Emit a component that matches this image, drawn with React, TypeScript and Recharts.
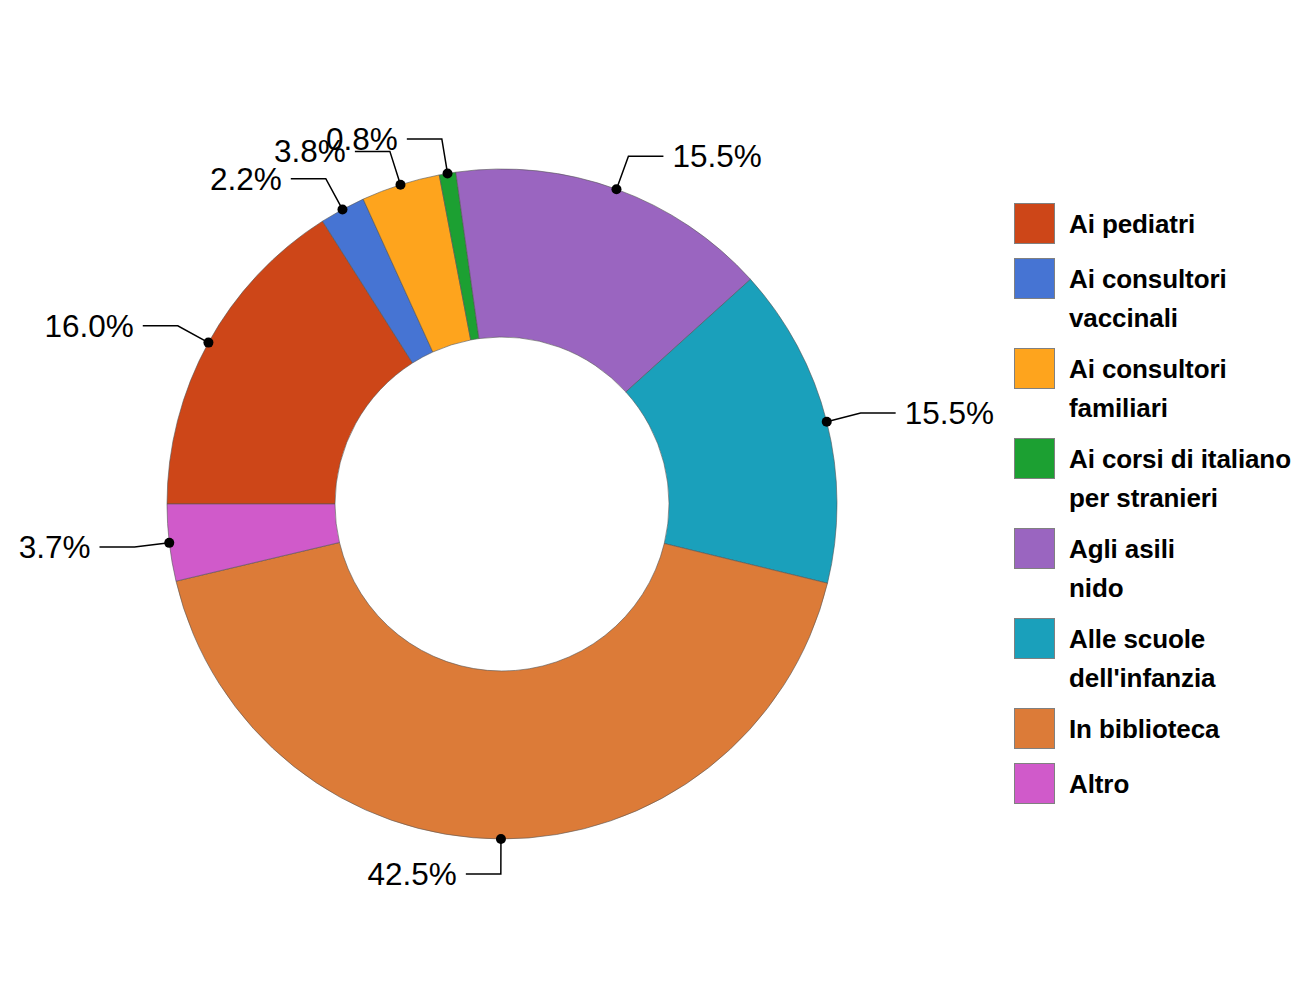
import React from 'react';
import { PieChart, Pie, Cell, Legend } from 'recharts';

const categories = [
  'Ai pediatri',
  'Ai consultori\nvaccinali',
  'Ai consultori\nfamiliari',
  'Ai corsi di italiano\nper stranieri',
  'Agli asili\nnido',
  'Alle scuole\ndell\'infanzia',
  'In biblioteca',
  'Altro',
];
const shares = [16.0, 2.2, 3.8, 0.8, 15.5, 15.5, 42.5, 3.7];
const colors = ['#CD4618', '#4674D3', '#FEA41D', '#1CA032', '#9A65C0', '#1AA0BB', '#DC7B38', '#D05ACA'];

const data = categories.map((name, i) => ({ name, value: shares[i] }));

const RAD = Math.PI / 180;

const renderLabel = (props: any) => {
  const { cx, cy, midAngle, outerRadius, value } = props;
  const cos = Math.cos(-midAngle * RAD);
  const sin = Math.sin(-midAngle * RAD);
  const sx = cx + outerRadius * cos;
  const sy = cy + outerRadius * sin;
  const mx = cx + (outerRadius + 35) * cos;
  const my = cy + (outerRadius + 35) * sin;
  const dir = cos >= 0 ? 1 : -1;
  const ex = mx + dir * 35;
  return (
    <g>
      <polyline points={`${sx},${sy} ${mx},${my} ${ex},${my}`} fill="none" stroke="#000" strokeWidth={1.5} />
      <circle cx={sx} cy={sy} r={5} fill="#000" />
      <text
        x={ex + dir * 9}
        y={my}
        textAnchor={dir > 0 ? 'start' : 'end'}
        dominantBaseline="central"
        fontSize={31.5}
        fontFamily="Arial, 'Liberation Sans', sans-serif"
        fill="#000"
      >
        {`${Number(value).toFixed(1)}%`}
      </text>
    </g>
  );
};

const renderLegend = () => (
  <div
    style={{
      fontFamily: "Arial, 'Liberation Sans', sans-serif",
      fontWeight: 'bold',
      fontSize: 26,
      letterSpacing: -0.1,
      color: '#000',
    }}
  >
    {categories.map((name, i) => {
      const lines = name.split('\n');
      return (
        <div
          key={name}
          style={{ display: 'flex', alignItems: 'flex-start', marginBottom: lines.length > 1 ? 12 : 14 }}
        >
          <div
            style={{
              width: 41,
              height: 41,
              boxSizing: 'border-box',
              border: '1px solid #808080',
              background: colors[i],
              flexShrink: 0,
            }}
          />
          <div style={{ marginLeft: 14, lineHeight: '39px', whiteSpace: 'nowrap', position: 'relative', top: 2 }}>
            {lines.map((line) => (
              <div key={line}>{line}</div>
            ))}
          </div>
        </div>
      );
    })}
  </div>
);

export default function App() {
  return (
    <PieChart width={1283} height={990} margin={{ top: 0, right: 0, bottom: 0, left: 0 }}>
      <Pie
        data={data}
        dataKey="value"
        nameKey="name"
        cx={494}
        cy={496}
        innerRadius={167}
        outerRadius={335}
        startAngle={180}
        endAngle={-180}
        stroke="#555"
        strokeWidth={0.6}
        label={renderLabel}
        labelLine={false}
        isAnimationActive={false}
      >
        {data.map((d, i) => (
          <Cell key={d.name} fill={colors[i]} />
        ))}
      </Pie>
      <Legend
        layout="vertical"
        align="right"
        verticalAlign="top"
        content={renderLegend}
        wrapperStyle={{ left: 1006, top: 195, width: 277 }}
      />
    </PieChart>
  );
}
